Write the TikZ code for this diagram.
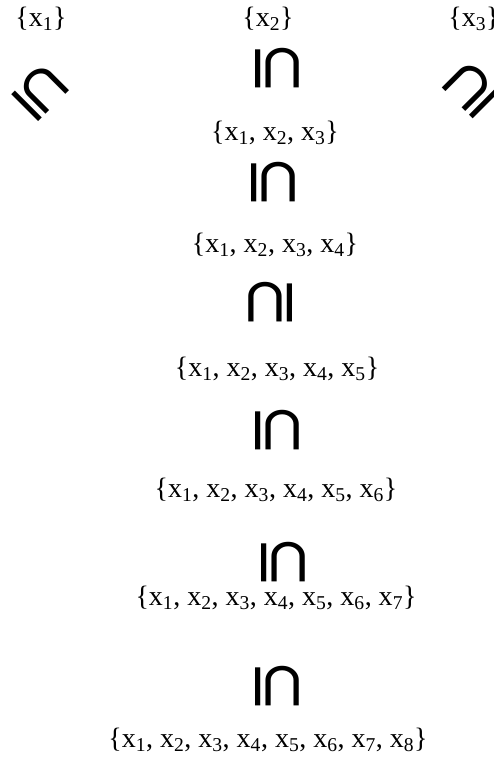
\documentclass[tikz,border=0pt]{standalone}
\usepackage{fontspec}
\setmainfont{Liberation Serif}
\newfontfamily\symfont{DejaVu Sans}
\usepackage{tikz}
\usetikzlibrary{positioning}

\begin{document}
\begin{tikzpicture}[x=1pt,y=-1pt,
  setlbl/.style={inner sep=0pt,font=\fontsize{28}{32}\selectfont},
  incl/.style={inner sep=0pt,font=\symfont\fontsize{62}{62}\selectfont,rotate=#1,yscale=1.15}]
  \useasboundingbox (0,0) rectangle (494,757);
  \node[setlbl] (a1) at (41,19) {\{x\textsubscript{1}\}};
  \node[setlbl] (a2) at (268,19) {\{x\textsubscript{2}\}};
  \node[setlbl] (a3) at (474,19) {\{x\textsubscript{3}\}};
  \node[incl=-45] (i1) at (40,92) {⊆};
  \node[incl=-90] (i2) at (277,68) {⊆};
  \node[incl=45] (i3) at (471,90) {⊇};
  \node[setlbl] (b3) at (275,133) {\{x\textsubscript{1}, x\textsubscript{2}, x\textsubscript{3}\}};
  \node[incl=-90] (i4) at (273,182) {⊆};
  \node[setlbl] (b4) at (275,245) {\{x\textsubscript{1}, x\textsubscript{2}, x\textsubscript{3}, x\textsubscript{4}\}};
  \node[incl=90] (i5) at (271,303) {⊇};
  \node[setlbl] (b5) at (277,369) {\{x\textsubscript{1}, x\textsubscript{2}, x\textsubscript{3}, x\textsubscript{4}, x\textsubscript{5}\}};
  \node[incl=-90] (i6) at (277,430) {⊆};
  \node[setlbl] (b6) at (276,490) {\{x\textsubscript{1}, x\textsubscript{2}, x\textsubscript{3}, x\textsubscript{4}, x\textsubscript{5}, x\textsubscript{6}\}};
  \node[incl=-90] (i7) at (283,562) {⊆};
  \node[setlbl] (b7) at (276,598) {\{x\textsubscript{1}, x\textsubscript{2}, x\textsubscript{3}, x\textsubscript{4}, x\textsubscript{5}, x\textsubscript{6}, x\textsubscript{7}\}};
  \node[incl=-90] (i8) at (277,686) {⊆};
  \node[setlbl] (b8) at (268,740) {\{x\textsubscript{1}, x\textsubscript{2}, x\textsubscript{3}, x\textsubscript{4}, x\textsubscript{5}, x\textsubscript{6}, x\textsubscript{7}, x\textsubscript{8}\}};
\end{tikzpicture}
\end{document}
